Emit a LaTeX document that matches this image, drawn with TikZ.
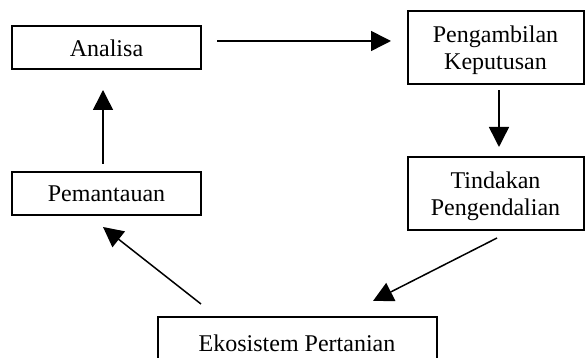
\documentclass[tikz,border=0pt]{standalone}
\usepackage{fontspec}
\setmainfont{Liberation Serif}
\usetikzlibrary{arrows.meta}

\begin{document}
\begin{tikzpicture}[x=0.5pt, y=0.5pt]
        \tikzstyle{every node}=[draw, rectangle, line width=1pt, inner sep=1pt, align=center, font=\fontsize{12}{13.5}\selectfont]
        \tikzstyle{kecil}=[minimum width=94.5pt, minimum height=21.5pt]
        \tikzstyle{besar}=[minimum width=88pt, minimum height=36.5pt, text depth=-2.5pt]
        \tikzstyle{panah}=[line width=0.75pt, -{Triangle[length=10pt, width=10pt]}]
        \useasboundingbox (0,0) rectangle (585,358);
        \node [kecil] (analisa) at (106.5,310) {Analisa};
        \node [besar] (ambil) at (495.5,310) {Pengambilan\\Keputusan};
        \node [besar] (tindakan) at (495.5,164.5) {Tindakan\\Pengendalian};
        \node [kecil] (pantau) at (106.5,164.5) {Pemantauan};
        \node [minimum width=139.5pt, minimum height=26pt] (ekosistem) at (297,15) {Ekosistem Pertanian};
        \draw [panah] ([shift={(15,7)}]analisa.east) -- ([shift={(-15.5,7)}]ambil.west);
        \draw [panah] ([shift={(3.5,-5)}]ambil.south) -- ([shift={(3.5,9)}]tindakan.north);
        \draw [panah] ([shift={(1.5,-7)}]tindakan.south) -- ([shift={(76,15)}]ekosistem.north);
        \draw [panah] ([shift={(44.5,12)}]ekosistem.north west) -- ([shift={(-3.5,-11)}]pantau.south);
        \draw [panah] ([shift={(-3.5,7)}]pantau.north) -- ([shift={(-3.5,-19.5)}]analisa.south);
    \end{tikzpicture}
\end{document}
